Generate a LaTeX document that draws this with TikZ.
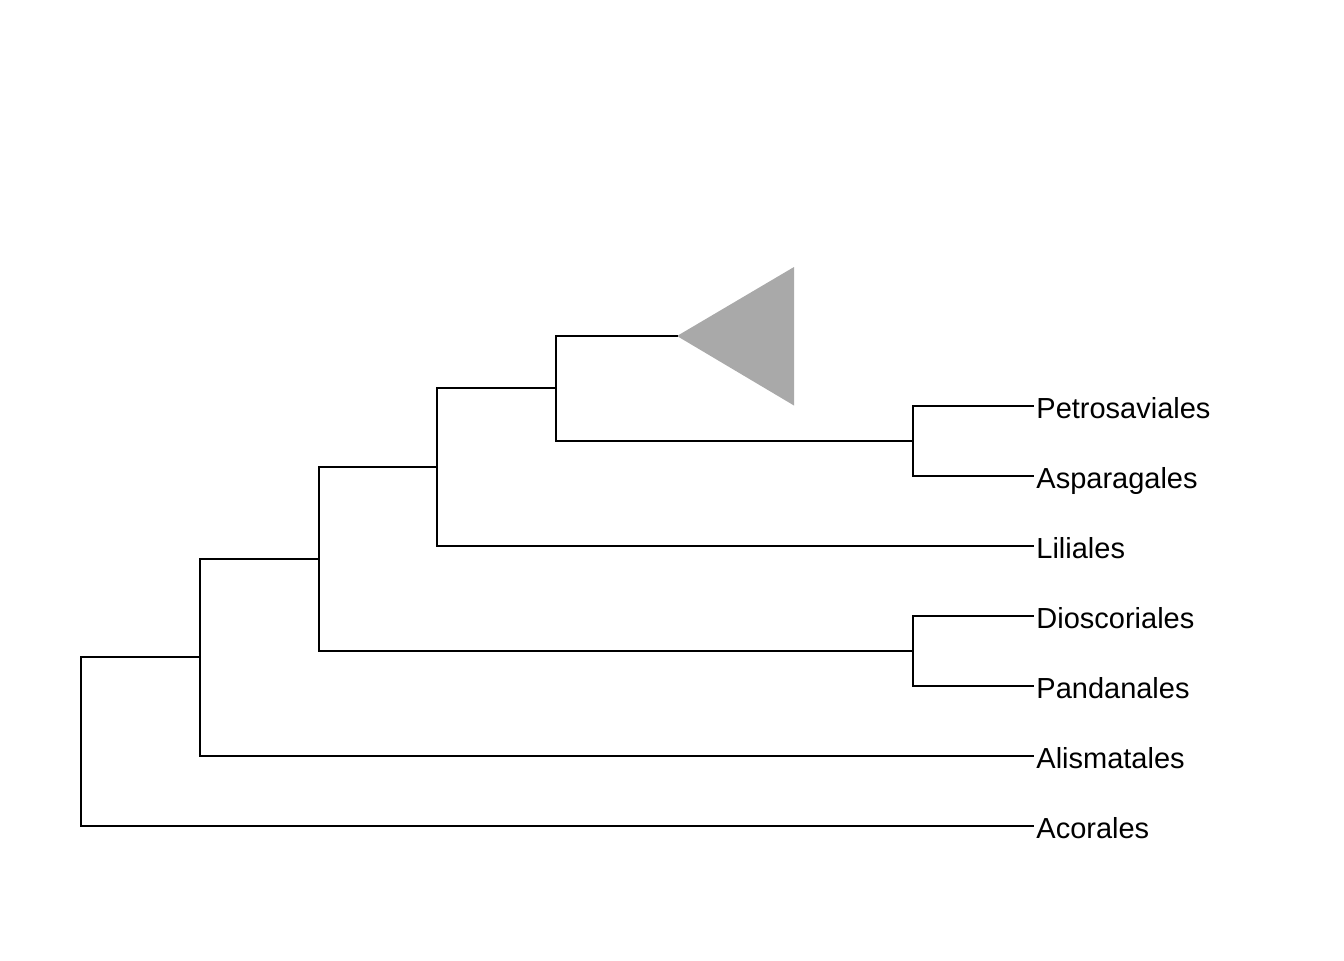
\documentclass[tikz,border=0pt]{standalone}
\usepackage{fontspec}
\setmainfont{Liberation Sans}
\definecolor{tri}{HTML}{A9A9A9}
\begin{document}
\begin{tikzpicture}[x=0.5pt,y=-0.5pt,
  branch/.style={draw=black,line width=1pt,line cap=rect},
  tip/.style={anchor=west,inner xsep=1.5pt,inner ysep=0pt,font=\fontsize{14.5pt}{17pt}\selectfont,text height=12.4pt,text depth=0pt}]
\useasboundingbox (0,0) rectangle (1344,960);
% internal nodes
\coordinate (root) at (81,741.5);
\coordinate (n2) at (200,657);
\coordinate (n3) at (319,559);
\coordinate (n4) at (437,467);
\coordinate (n5) at (913,651);
\coordinate (n6) at (556,388);
\coordinate (n7) at (913,441);
\coordinate (apex) at (677,336);
% tips
\node[tip] (petr) at (1033,406) {Petrosaviales};
\node[tip] (aspa) at (1033,476) {Asparagales};
\node[tip] (lili) at (1033,546) {Liliales};
\node[tip] (dios) at (1033,616) {Dioscoriales};
\node[tip] (pand) at (1033,686) {Pandanales};
\node[tip] (alis) at (1033,756) {Alismatales};
\node[tip] (acor) at (1033,826) {Acorales};
% collapsed clade
\fill[tri] (apex) -- (794,267) -- (794,405.5) -- cycle;
% branches
\draw[branch] (root) |- (n2);
\draw[branch] (root) |- (acor.west);
\draw[branch] (n2) |- (n3);
\draw[branch] (n2) |- (alis.west);
\draw[branch] (n3) |- (n4);
\draw[branch] (n3) |- (n5);
\draw[branch] (n5) |- (dios.west);
\draw[branch] (n5) |- (pand.west);
\draw[branch] (n4) |- (n6);
\draw[branch] (n4) |- (lili.west);
\draw[branch] (n6) |- (apex);
\draw[branch] (n6) |- (n7);
\draw[branch] (n7) |- (petr.west);
\draw[branch] (n7) |- (aspa.west);
\end{tikzpicture}
\end{document}
